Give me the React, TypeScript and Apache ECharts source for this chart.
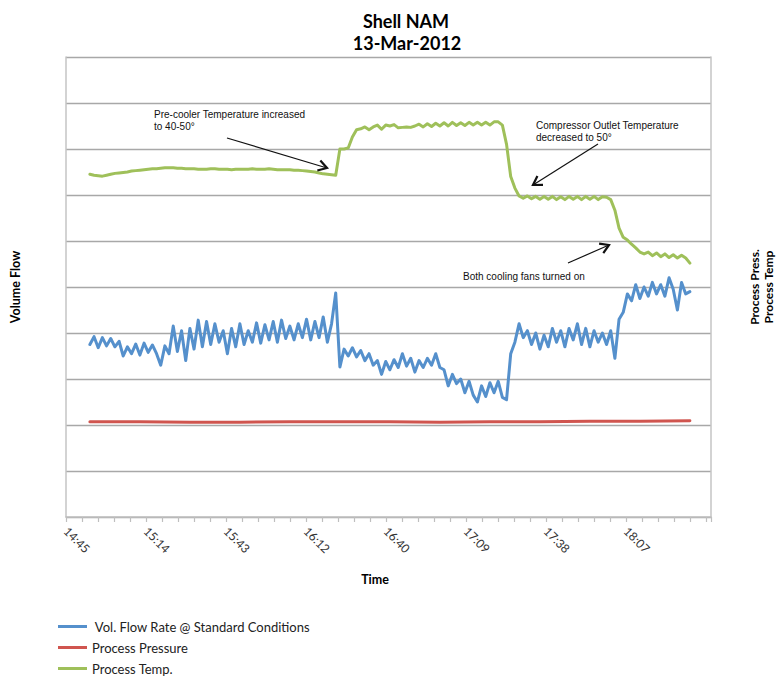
import React, { useEffect, useRef } from "react";
import * as echarts from "echarts";

// x axis: minutes after 14:45:36 (first major tick); majors every 0.02 day
const axisStartClockMinute = 885.6;
const majorStepMinutes = 28.8;
const axisSpanMinutes = 232.2;
const lastLabelledMajor = 7;

const sampleStartOffset = 8.6;
const sampleStepMinutes = 1.5;
const pressureStepMinutes = 18;

const seriesNames = [
  " Vol. Flow Rate @ Standard Conditions",
  "Process Pressure",
  "Process Temp.",
];

const volumeFlow = [
  3.75, 3.92, 3.68, 3.9, 3.72, 3.88, 3.7, 3.82, 3.5, 3.7,
  3.55, 3.76, 3.52, 3.78, 3.58, 3.74, 3.55, 3.3, 3.72, 3.55,
  4.15, 3.6, 4.05, 3.4, 4.1, 3.65, 4.28, 3.7, 4.25, 3.75,
  4.2, 3.8, 4.05, 3.55, 4.1, 3.7, 4.2, 3.75, 4.05, 3.8,
  4.22, 3.78, 4.18, 3.85, 4.25, 3.8, 4.28, 3.88, 4.15, 3.85,
  4.2, 3.9, 4.3, 3.85, 4.25, 3.9, 4.35, 3.8, 4.2, 4.87,
  3.26, 3.65, 3.5, 3.68, 3.48, 3.62, 3.4, 3.55, 3.3, 3.4,
  3.1, 3.38, 3.2, 3.42, 3.25, 3.55, 3.28, 3.45, 3.15, 3.4,
  3.25, 3.45, 3.3, 3.55, 3.25, 3.2, 2.85, 3.1, 2.9, 3.0,
  2.7, 2.95, 2.65, 2.5, 2.85, 2.62, 2.92, 2.7, 2.95, 2.6,
  2.55, 3.55, 3.8, 4.2, 3.9, 4.05, 3.75, 4.0, 3.65, 3.95,
  3.7, 4.1, 3.8, 4.05, 3.7, 4.1, 3.85, 4.2, 3.75, 4.1,
  3.7, 4.05, 3.8, 4.0, 3.75, 4.05, 3.45, 4.3, 4.45, 4.85,
  4.7, 5.05, 4.75, 5.0, 4.8, 5.1, 4.85, 5.05, 4.8, 5.2,
  4.95, 4.5, 5.1, 4.85, 4.9,
];

const processTemp = [
  7.45, 7.43, 7.42, 7.41, 7.43, 7.45, 7.47, 7.48, 7.49, 7.5,
  7.52, 7.53, 7.54, 7.55, 7.56, 7.57, 7.57, 7.58, 7.59, 7.59,
  7.59, 7.58, 7.58, 7.57, 7.57, 7.57, 7.56, 7.56, 7.56, 7.57,
  7.57, 7.56, 7.56, 7.56, 7.55, 7.56, 7.56, 7.56, 7.56, 7.57,
  7.56, 7.56, 7.56, 7.57, 7.56, 7.55, 7.55, 7.55, 7.55, 7.54,
  7.54, 7.53, 7.52, 7.51, 7.5, 7.48, 7.46, 7.45, 7.44, 7.43,
  8.0, 8.0, 8.02, 8.26, 8.42, 8.44, 8.48, 8.42, 8.48, 8.52,
  8.43, 8.52, 8.5, 8.53, 8.46, 8.47, 8.48, 8.47, 8.5, 8.54,
  8.48, 8.55, 8.49, 8.56, 8.5, 8.57, 8.5, 8.58, 8.51, 8.57,
  8.51, 8.58, 8.52, 8.58, 8.52, 8.58, 8.52, 8.59, 8.59, 8.52,
  8.1, 7.4, 7.15, 6.98, 6.93, 6.98, 6.92, 6.97, 6.91, 6.97,
  6.91, 6.97, 6.9, 6.96, 6.9, 6.97, 6.91, 6.97, 6.9, 6.97,
  6.91, 6.97, 6.9, 6.96, 6.95, 6.9, 6.67, 6.28, 6.08, 6.02,
  5.93, 5.85, 5.76, 5.72, 5.76, 5.68, 5.74, 5.66, 5.72, 5.64,
  5.7, 5.63, 5.69, 5.63, 5.52,
];

const processPressure = [
  2.07, 2.07, 2.06, 2.06, 2.07, 2.07, 2.07, 2.06, 2.07, 2.07, 2.08, 2.08, 2.09,
];

const titleLines = ["Shell NAM", "13-Mar-2012"];

const annotations = [
  { text: "Pre-cooler Temperature increased\nto 40-50°", x: 154, y: 108, from: [227, 138], to: [327, 168] },
  { text: "Compressor Outlet Temperature\ndecreased to 50°", x: 536, y: 119, from: [598, 144], to: [533, 185] },
  { text: "Both cooling fans turned on", x: 463, y: 270, from: [568, 263], to: [609, 245] },
];

const COLORS = ["#5590cc", "#d0554f", "#9fc05a"];

function clockLabel(v: number) {
  const k = v / majorStepMinutes;
  if (Math.abs(k - Math.round(k)) > 0.01 || Math.round(k) > lastLabelledMajor) return "";
  const m = Math.floor(Math.round((axisStartClockMinute + v) * 100) / 100 + 1e-6);
  const h = Math.floor(m / 60);
  const mm = m % 60;
  return `${h}:${String(mm).padStart(2, "0")}`;
}

function arrowGraphics(from: number[], to: number[]) {
  const [x1, y1] = from;
  const [x2, y2] = to;
  const ang = Math.atan2(y2 - y1, x2 - x1);
  const len = 10;
  const spread = 0.55;
  const p1 = [x2 - len * Math.cos(ang - spread), y2 - len * Math.sin(ang - spread)];
  const p2 = [x2 - len * Math.cos(ang + spread), y2 - len * Math.sin(ang + spread)];
  return [
    { type: "line", z: 100, shape: { x1, y1, x2, y2 }, style: { stroke: "#111", lineWidth: 1.2 } },
    {
      type: "polyline",
      z: 100,
      shape: { points: [p1, [x2, y2], p2] },
      style: { stroke: "#111", lineWidth: 2.2, fill: null, lineJoin: "miter" },
    },
  ];
}

function textEl(text: string, x: number, y: number, opts: any) {
  const align = opts.align || "left";
  const valign = opts.valign || "top";
  return {
    type: "text",
    z: 100,
    x,
    y,
    rotation: opts.rotation || 0,
    style: {
      text,
      fill: opts.color || "#000",
      fontSize: opts.fontSize,
      fontFamily: opts.fontFamily,
      fontWeight: opts.fontWeight || "normal",
      lineHeight: opts.lineHeight,
      align,
      textAlign: align,
      verticalAlign: valign,
      textVerticalAlign: valign,
    },
  };
}

export default function App() {
  const ref = useRef<HTMLDivElement>(null);

  useEffect(() => {
    if (!ref.current) return;
    const chart = echarts.init(ref.current, undefined, { renderer: "svg" });

    const flowData = volumeFlow.map((v, i) => [sampleStartOffset + i * sampleStepMinutes, v]);
    const tempData = processTemp.map((v, i) => [sampleStartOffset + i * sampleStepMinutes, v]);
    const pressData = processPressure.map((v, i) => [sampleStartOffset + i * pressureStepMinutes, v]);

    const graphics: any[] = [
      textEl(titleLines[0], 406, 21, { align: "center", valign: "middle", fontSize: 18, fontFamily: "Lato", fontWeight: "bold" }),
      textEl(titleLines[1], 407, 43, { align: "center", valign: "middle", fontSize: 18, fontFamily: "Lato", fontWeight: "bold" }),
      textEl("Volume Flow", 15, 287, { align: "center", valign: "middle", fontSize: 12.5, fontFamily: "Lato", fontWeight: "bold", rotation: Math.PI / 2 }),
      textEl("Process Press.\nProcess Temp", 761, 287, { align: "center", valign: "middle", fontSize: 12, fontFamily: "Lato", fontWeight: "bold", rotation: Math.PI / 2, lineHeight: 14 }),
      textEl("Time", 375, 579, { align: "center", valign: "middle", fontSize: 12.5, fontFamily: "Lato", fontWeight: "bold" }),
    ];
    annotations.forEach((a) => {
      graphics.push(textEl(a.text, a.x, a.y, { fontSize: 10, fontFamily: "Liberation Sans", color: "#111", lineHeight: 12 }));
      graphics.push(...arrowGraphics(a.from, a.to));
    });

    const lineCommon = {
      type: "line",
      showSymbol: false,
      symbol: "none",
      smooth: false,
      lineStyle: { width: 3, cap: "round", join: "round" },
    };

    chart.setOption({
      animation: false,
      backgroundColor: "#ffffff",
      textStyle: { fontFamily: "Lato" },
      color: COLORS,
      grid: { left: 66, right: 66, top: 57, bottom: 160, containLabel: false },
      legend: {
        orient: "vertical",
        left: 58,
        top: 620,
        height: 57,
        padding: 0,
        itemWidth: 29,
        itemHeight: 3,
        itemGap: 8,
        icon: "rect",
        textStyle: { fontFamily: "Lato", fontSize: 13, color: "#222", lineHeight: 13 },
        data: seriesNames,
      },
      xAxis: {
        type: "value",
        min: 0,
        max: axisSpanMinutes,
        interval: majorStepMinutes,
        axisLine: { show: true, lineStyle: { color: "#bfbfbf", width: 1.5 } },
        axisTick: { show: true, inside: false, length: 5, lineStyle: { color: "#bfbfbf", width: 1.2 } },
        minorTick: { show: true, splitNumber: 5, length: 5, lineStyle: { color: "#bfbfbf", width: 1.2 } },
        splitLine: { show: false },
        minorSplitLine: { show: false },
        axisLabel: {
          rotate: -45,
          margin: 12,
          showMaxLabel: false,
          fontFamily: "Lato",
          fontSize: 12,
          color: "#333",
          formatter: (v: number) => clockLabel(v),
        },
      },
      yAxis: [
        {
          type: "value",
          min: 0,
          max: 10,
          interval: 1,
          axisLine: { show: true, onZero: false, lineStyle: { color: "#c4c4c4", width: 1.5 } },
          axisTick: { show: false },
          axisLabel: { show: false },
          splitLine: { show: true, lineStyle: { color: "#a8a8a8", width: 1.3 } },
        },
        {
          type: "value",
          position: "right",
          min: 0,
          max: 10,
          interval: 1,
          axisLine: { show: true, onZero: false, lineStyle: { color: "#c4c4c4", width: 1.5 } },
          axisTick: { show: false },
          axisLabel: { show: false },
          splitLine: { show: false },
        },
      ],
      series: [
        { ...lineCommon, name: seriesNames[0], yAxisIndex: 0, data: flowData, z: 3 },
        { ...lineCommon, name: seriesNames[1], yAxisIndex: 1, data: pressData, z: 2 },
        { ...lineCommon, name: seriesNames[2], yAxisIndex: 1, data: tempData, z: 2 },
      ],
      graphic: graphics,
    });

    return () => chart.dispose();
  }, []);

  return (
    <div
      ref={ref}
      style={{ position: "fixed", left: 0, top: 0, width: "777px", height: "677px", background: "#fff" }}
    />
  );
}
